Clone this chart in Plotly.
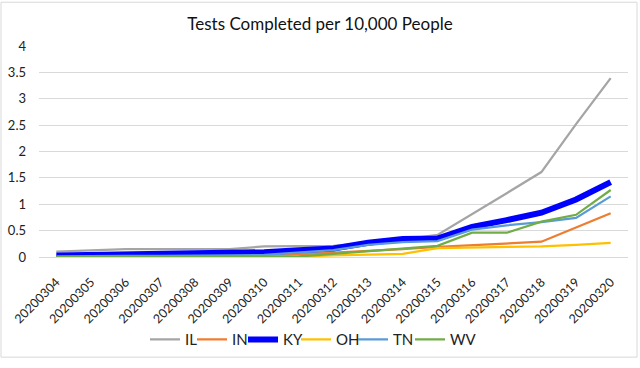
import plotly.graph_objects as go

dates = ["20200304", "20200305", "20200306", "20200307", "20200308", "20200309",
         "20200310", "20200311", "20200312", "20200313", "20200314", "20200315",
         "20200316", "20200317", "20200318", "20200319", "20200320"]

IL = [0.10, 0.13, 0.15, 0.15, 0.15, 0.15, 0.20, 0.20, 0.21, 0.27, 0.33, 0.42, 0.81, 1.21, 1.61, 2.52, 3.39]
IN = [0.01, 0.01, 0.01, 0.01, 0.01, 0.01, 0.02, 0.05, 0.08, 0.11, 0.15, 0.19, 0.22, 0.25, 0.29, 0.56, 0.83]
KY = [0.03, 0.04, 0.04, 0.04, 0.05, 0.06, 0.09, 0.13, 0.16, 0.27, 0.34, 0.35, 0.57, 0.70, 0.84, 1.09, 1.42]
OH = [0.00, 0.00, 0.00, 0.00, 0.00, 0.00, 0.01, 0.01, 0.03, 0.04, 0.06, 0.17, 0.18, 0.19, 0.20, 0.23, 0.27]
TN = [0.01, 0.02, 0.02, 0.02, 0.02, 0.03, 0.04, 0.09, 0.13, 0.23, 0.28, 0.30, 0.52, 0.60, 0.66, 0.74, 1.15]
WV = [0.00, 0.00, 0.00, 0.00, 0.00, 0.00, 0.01, 0.01, 0.06, 0.11, 0.15, 0.21, 0.46, 0.46, 0.67, 0.80, 1.27]

y_ticks = [0, 0.5, 1, 1.5, 2, 2.5, 3, 3.5, 4]
y_labels = ["0", "0.5", "1", "1.5", "2", "2.5", "3", "3.5", "4"]

series = [
    ("IL", IL, "#A5A5A5", 2.25),
    ("IN", IN, "#ED7D31", 2.25),
    ("KY", KY, "#0000FF", 6),
    ("OH", OH, "#FFC000", 2.25),
    ("TN", TN, "#5B9BD5", 2.25),
    ("WV", WV, "#70AD47", 2.25),
]

L, R, T, B = 39, 12, 46, 105
PW, PH = 640 - L - R, 368 - T - B

# pixel x where each legend entry's text begins (layout only)
legend_text_px = [185, 232, 283, 336, 393, 450]
legend_y = -(348 - (T + PH)) / PH

fig = go.Figure()
legend_layouts = {}
for i, (name, vals, color, w) in enumerate(series):
    lg = "legend" if i == 0 else f"legend{i + 1}"
    fig.add_trace(go.Scatter(x=dates, y=vals, mode="lines", name=name, legend=lg,
                             line=dict(color=color, width=w)))
    legend_layouts[lg] = dict(
        orientation="h", xanchor="left", yanchor="middle",
        x=(legend_text_px[i] - 40 - L) / PW, y=legend_y,
        font=dict(size=15, color="#222222"), itemwidth=30,
        bgcolor="rgba(0,0,0,0)", borderwidth=0,
    )

fig.update_layout(
    width=640, height=368, autosize=False,
    paper_bgcolor="white", plot_bgcolor="white",
    font=dict(family="Lato", size=13, color="#222222"),
    title=dict(text="Tests Completed per 10,000 People", x=0.5, xanchor="center",
               y=1 - 24.5 / 368, yanchor="middle", font=dict(size=17, color="#111111")),
    margin=dict(l=L, r=R, t=T, b=B),
    showlegend=True,
    xaxis=dict(type="category", range=[-0.5, len(dates) - 0.5], tickangle=-45,
               showgrid=False, showline=True,
               linecolor="#D9D9D9", linewidth=1, ticks="", tickfont=dict(size=12.5),
               zeroline=False, automargin=False, ticklabelstandoff=12),
    yaxis=dict(range=[0, 4], tickvals=y_ticks, ticktext=y_labels, showgrid=True,
               gridcolor="#D9D9D9", gridwidth=1, zeroline=False, showline=False,
               ticks="", tickfont=dict(size=13), automargin=False,
               ticklabelstandoff=12),
    **legend_layouts,
)
fig.add_shape(type="rect", xref="paper", yref="paper",
              x0=(1 - L) / PW, x1=(637 - L) / PW,
              y0=-(366 - (T + PH)) / PH, y1=(T + PH - 1) / PH,
              line=dict(color="#D9D9D9", width=1))

fig.write_html("out.html",
               config={"displayModeBar": False, "responsive": False},
               post_script="document.body.style.margin='0';document.body.style.overflow='hidden';")
